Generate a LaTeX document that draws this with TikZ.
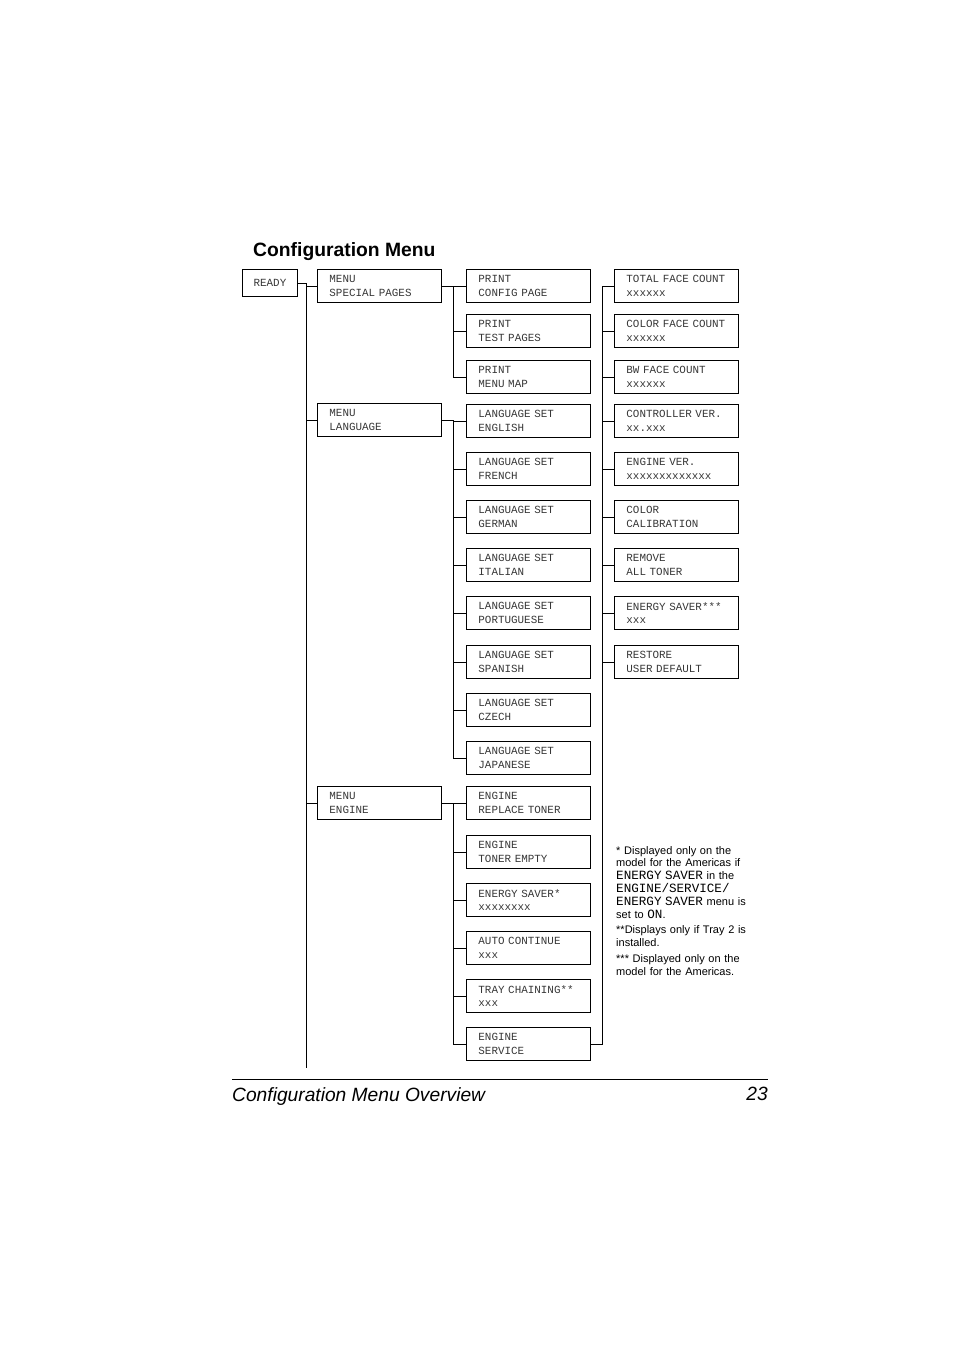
\documentclass[tikz,border=0pt]{standalone}
\usepackage{fontspec}
\setmainfont{Liberation Sans}
\setmonofont[WordSpace={1,0,0}]{Liberation Mono}
\usepackage{tikz}
\usetikzlibrary{positioning,calc}
\definecolor{menutext}{RGB}{55,55,55}

\tikzset{
  menubox/.style={draw, line width=0.9pt, anchor=north west, text width=112pt,
    inner xsep=6pt, inner ysep=0pt, minimum height=33pt, align=left,
    execute at begin node={\leftskip=6pt},
    text=menutext, font=\fontsize{10.9}{13.5}\selectfont\ttfamily},
  readybox/.style={draw, line width=0.9pt, anchor=north west, minimum width=55pt,
    minimum height=27pt, inner sep=0pt, text=menutext,
    font=\fontsize{10.9}{13.5}\selectfont\ttfamily},
  wire/.style={line width=0.8pt},
}
\newcommand{\fnmono}[1]{{\fontsize{12.6}{12.8}\selectfont\ttfamily #1}}

\begin{document}
\begin{tikzpicture}[x=1pt,y=-1pt]
\useasboundingbox (0,0) rectangle (954,1351);

\node[anchor=base west, inner sep=0pt, font=\fontsize{19.3}{23}\selectfont\bfseries] (title) at (253,256) {Configuration Menu};

% first two columns
\node[readybox] (ready) at (242,269) {READY};
\node[menubox] (spc)  at (317,269) {MENU\\SPECIAL PAGES};
\node[menubox] (lang) at (317,403) {MENU\\LANGUAGE};
\node[menubox] (eng)  at (317,786) {MENU\\ENGINE};

% third column
\node[menubox] (p1) at (466,269) {PRINT\\CONFIG PAGE};
\node[menubox] (p2) at (466,314) {PRINT\\TEST PAGES};
\node[menubox] (p3) at (466,360) {PRINT\\MENU MAP};

\node[menubox] (l1) at (466,404) {LANGUAGE SET\\ENGLISH};
\node[menubox] (l2) at (466,452) {LANGUAGE SET\\FRENCH};
\node[menubox] (l3) at (466,500) {LANGUAGE SET\\GERMAN};
\node[menubox] (l4) at (466,548) {LANGUAGE SET\\ITALIAN};
\node[menubox] (l5) at (466,596) {LANGUAGE SET\\PORTUGUESE};
\node[menubox] (l6) at (466,645) {LANGUAGE SET\\SPANISH};
\node[menubox] (l7) at (466,693) {LANGUAGE SET\\CZECH};
\node[menubox] (l8) at (466,741) {LANGUAGE SET\\JAPANESE};

\node[menubox] (e1) at (466,786)  {ENGINE\\REPLACE TONER};
\node[menubox] (e2) at (466,835)  {ENGINE\\TONER EMPTY};
\node[menubox] (e3) at (466,883)  {ENERGY SAVER*\\xxxxxxxx};
\node[menubox] (e4) at (466,931)  {AUTO CONTINUE\\xxx};
\node[menubox] (e5) at (466,979)  {TRAY CHAINING**\\xxx};
\node[menubox] (e6) at (466,1027) {ENGINE\\SERVICE};

% service column
\node[menubox] (s1) at (614,269) {TOTAL FACE COUNT\\xxxxxx};
\node[menubox] (s2) at (614,314) {COLOR FACE COUNT\\xxxxxx};
\node[menubox] (s3) at (614,360) {BW FACE COUNT\\xxxxxx};
\node[menubox] (s4) at (614,404) {CONTROLLER VER.\\xx.xxx};
\node[menubox] (s5) at (614,452) {ENGINE VER.\\xxxxxxxxxxxxx};
\node[menubox] (s6) at (614,500) {COLOR\\CALIBRATION};
\node[menubox] (s7) at (614,548) {REMOVE\\ALL TONER};
\node[menubox] (s8) at (614,596) {ENERGY SAVER***\\xxx};
\node[menubox] (s9) at (614,645) {RESTORE\\USER DEFAULT};

% connectors
\coordinate (trunk) at (306,1068);
\coordinate (bx) at (453,0);
\coordinate (cx) at (602,0);

\draw[wire] (ready.east) -- (ready.east -| trunk) -- (trunk);
\foreach \n in {spc,lang,eng}
  \draw[wire] (\n.west) -- (\n.west -| trunk);

\draw[wire] (spc.east) -- (spc.east -| bx) |- (p3.west);
\foreach \n in {p1,p2}
  \draw[wire] (\n.west) -- (\n.west -| bx);

\draw[wire] (lang.east) -- (lang.east -| bx) |- (l8.west);
\foreach \n in {l1,l2,l3,l4,l5,l6,l7}
  \draw[wire] (\n.west) -- (\n.west -| bx);

\draw[wire] (eng.east) -- (eng.east -| bx) |- (e6.west);
\foreach \n in {e1,e2,e3,e4,e5}
  \draw[wire] (\n.west) -- (\n.west -| bx);

\draw[wire] (e6.east) -- (e6.east -| cx) |- (s1.west);
\foreach \n in {s2,s3,s4,s5,s6,s7,s8,s9}
  \draw[wire] (\n.west) -- (\n.west -| cx);

% notes
\node[anchor=north west, inner sep=0pt, text width=160pt, align=left,
  font=\fontsize{11}{12.8}\selectfont] (notes) at (616,846)
  {* Displayed only on the\\
   model for the Americas if\\
   \fnmono{ENERGY SAVER} in the\\
   \fnmono{ENGINE/SERVICE/}\\
   \fnmono{ENERGY SAVER} menu is\\
   set to \fnmono{ON}.\\[3pt]
   **Displays only if Tray 2 is\\
   installed.\\[3pt]
   *** Displayed only on the\\
   model for the Americas.};

% footer
\draw[line width=0.8pt] (232,1079) -- (768,1079);
\node[anchor=base west, inner sep=0pt, font=\fontsize{19.2}{23}\selectfont\itshape] (foot) at (232,1101) {Configuration Menu Overview};
\node[anchor=base east, inner sep=0pt, font=\fontsize{19.2}{23}\selectfont\itshape] (pagenum) at (768,1100) {23};
\end{tikzpicture}
\end{document}
